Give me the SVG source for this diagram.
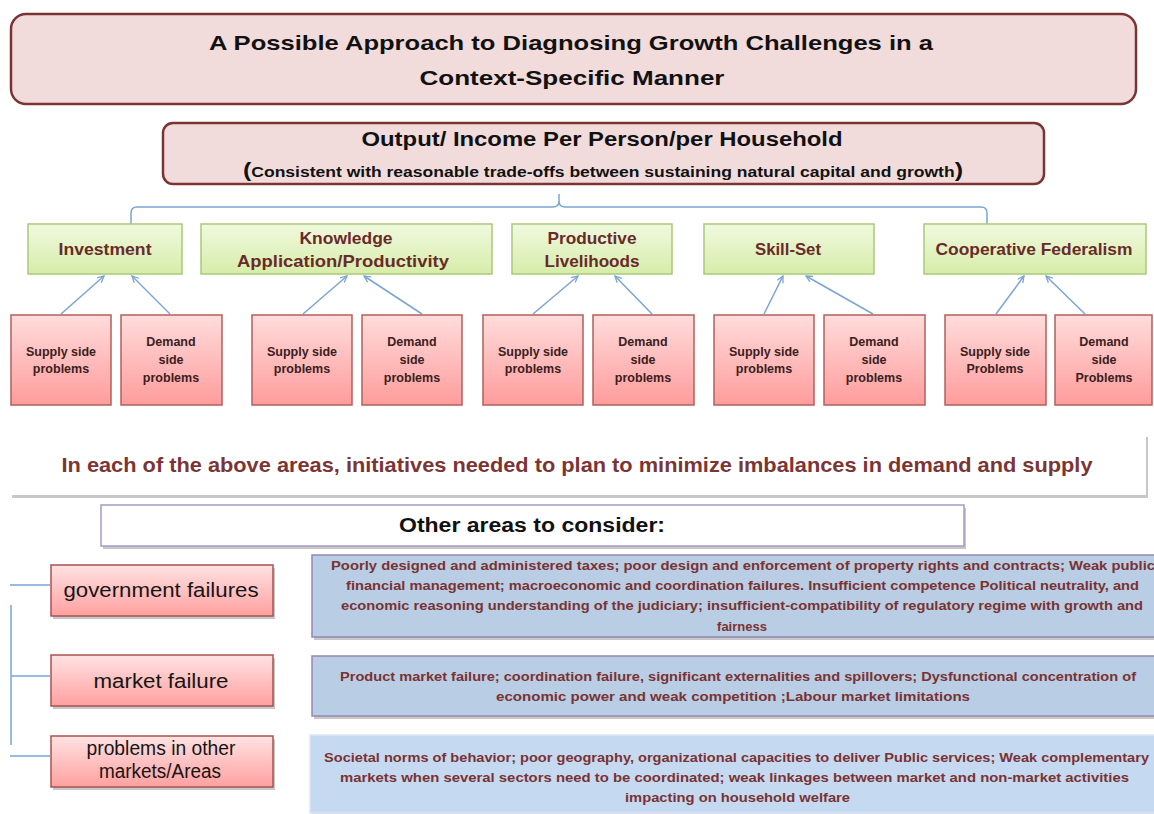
<svg xmlns="http://www.w3.org/2000/svg" width="1154" height="814" viewBox="0 0 1154 814">
<style>
text{font-family:"Liberation Sans",Arial,sans-serif;}
.t{font-weight:bold;fill:#111;text-anchor:middle;}
.g{font-weight:bold;fill:#6a2a2a;font-size:17px;text-anchor:middle;}
.p{font-weight:bold;fill:#3a2020;font-size:12.5px;text-anchor:middle;}
.l{fill:#151515;font-size:20px;text-anchor:middle;}
.b{font-weight:bold;fill:#7a3232;font-size:13px;}
.gb{fill:url(#gg);stroke:#a9c97c;stroke-width:1.5;}
.pb{fill:url(#pg);stroke:#b0605c;stroke-width:1.5;}
.lb{fill:url(#lg);stroke:#a85350;stroke-width:1.5;}
.bb{fill:#b9cde4;stroke:#9486b8;stroke-width:1.5;}
.c{fill:none;stroke:#7ba4d6;stroke-width:1.5;}
.sh{fill:#000;opacity:0.22;}
</style>
<defs>
<linearGradient id="gg" x1="0" y1="0" x2="0" y2="1"><stop offset="0" stop-color="#f1f9df"/><stop offset="1" stop-color="#d6eda9"/></linearGradient>
<linearGradient id="pg" x1="0" y1="0" x2="0" y2="1"><stop offset="0" stop-color="#ffdcdc"/><stop offset="1" stop-color="#ff9c9c"/></linearGradient>
<linearGradient id="lg" x1="0" y1="0" x2="0" y2="1"><stop offset="0" stop-color="#ffe2e2"/><stop offset="1" stop-color="#ffa0a0"/></linearGradient>
<marker id="ah" viewBox="0 0 10 10" refX="9" refY="5" markerWidth="8" markerHeight="8" orient="auto" markerUnits="userSpaceOnUse"><path d="M1,1 L9,5 L1,9" fill="none" stroke="#7ba4d6" stroke-width="1.6"/></marker>
</defs>

<g id="title">
<rect x="11" y="14" width="1125" height="90" rx="15" fill="#f2dcdb" stroke="#7b3434" stroke-width="2.5"/>
<text class="t" x="571" y="50" font-size="21" textLength="724" lengthAdjust="spacingAndGlyphs">A Possible Approach to Diagnosing Growth Challenges in a</text>
<text class="t" x="572" y="85" font-size="21" textLength="305" lengthAdjust="spacingAndGlyphs">Context-Specific Manner</text>
</g>

<g id="output">
<rect x="163" y="123" width="881" height="61" rx="10" fill="#f2dcdb" stroke="#7b3434" stroke-width="2.5"/>
<text class="t" x="602" y="146" font-size="20" textLength="481" lengthAdjust="spacingAndGlyphs">Output/ Income Per Person/per Household</text>
<text class="t" x="603" y="177" font-size="14" textLength="720" lengthAdjust="spacingAndGlyphs"><tspan font-size="20">(</tspan>Consistent with reasonable trade-offs between sustaining natural capital and growth<tspan font-size="20">)</tspan></text>
</g>

<g id="connectors">
<path class="c" d="M131,224 V213 Q131,207 137,207 H553 Q559,207 559,201 V194 M559,201 Q559,207 565,207 H981 Q987,207 987,213 V224"/>
<line class="c" x1="61" y1="314" x2="104" y2="276" marker-end="url(#ah)"/>
<line class="c" x1="170" y1="314" x2="132" y2="276" marker-end="url(#ah)"/>
<line class="c" x1="303" y1="314" x2="347" y2="276" marker-end="url(#ah)"/>
<line class="c" x1="422" y1="314" x2="364" y2="276" marker-end="url(#ah)"/>
<line class="c" x1="533" y1="314" x2="578" y2="276" marker-end="url(#ah)"/>
<line class="c" x1="652" y1="314" x2="615" y2="276" marker-end="url(#ah)"/>
<line class="c" x1="764" y1="314" x2="783" y2="276" marker-end="url(#ah)"/>
<line class="c" x1="873" y1="314" x2="806" y2="276" marker-end="url(#ah)"/>
<line class="c" x1="996" y1="314" x2="1024" y2="276" marker-end="url(#ah)"/>
<line class="c" x1="1085" y1="314" x2="1046" y2="276" marker-end="url(#ah)"/>
<path class="c" d="M10,585 H50 M11,605 V745 M11,676 H50 M10,756 H50"/>
</g>

<g id="investment">
<rect class="gb" x="28" y="224" width="154" height="50"/>
<text class="g" x="105" y="255" textLength="93" lengthAdjust="spacingAndGlyphs">Investment</text>
</g>
<g id="knowledge">
<rect class="gb" x="201" y="224" width="291" height="50"/>
<text class="g" x="346" y="244" textLength="93" lengthAdjust="spacingAndGlyphs">Knowledge</text>
<text class="g" x="343" y="267" textLength="212" lengthAdjust="spacingAndGlyphs">Application/Productivity</text>
</g>
<g id="productive">
<rect class="gb" x="512" y="224" width="160" height="50"/>
<text class="g" x="592" y="244" textLength="89" lengthAdjust="spacingAndGlyphs">Productive</text>
<text class="g" x="592" y="267" textLength="95" lengthAdjust="spacingAndGlyphs">Livelihoods</text>
</g>
<g id="skillset">
<rect class="gb" x="704" y="224" width="170" height="50"/>
<text class="g" x="788" y="255" textLength="66" lengthAdjust="spacingAndGlyphs">Skill-Set</text>
</g>
<g id="cooperative">
<rect class="gb" x="924" y="224" width="222" height="50"/>
<text class="g" x="1034" y="255" textLength="197" lengthAdjust="spacingAndGlyphs">Cooperative Federalism</text>
</g>

<g id="inv-supply"><rect class="pb" x="11" y="315" width="100" height="90"/><text class="p" x="61" y="356">Supply side</text><text class="p" x="61" y="373">problems</text></g>
<g id="inv-demand"><rect class="pb" x="121" y="315" width="101" height="90"/><text class="p" x="171" y="346">Demand</text><text class="p" x="171" y="364">side</text><text class="p" x="171" y="382">problems</text></g>
<g id="kn-supply"><rect class="pb" x="252" y="315" width="100" height="90"/><text class="p" x="302" y="356">Supply side</text><text class="p" x="302" y="373">problems</text></g>
<g id="kn-demand"><rect class="pb" x="362" y="315" width="100" height="90"/><text class="p" x="412" y="346">Demand</text><text class="p" x="412" y="364">side</text><text class="p" x="412" y="382">problems</text></g>
<g id="pr-supply"><rect class="pb" x="483" y="315" width="100" height="90"/><text class="p" x="533" y="356">Supply side</text><text class="p" x="533" y="373">problems</text></g>
<g id="pr-demand"><rect class="pb" x="593" y="315" width="101" height="90"/><text class="p" x="643" y="346">Demand</text><text class="p" x="643" y="364">side</text><text class="p" x="643" y="382">problems</text></g>
<g id="sk-supply"><rect class="pb" x="714" y="315" width="100" height="90"/><text class="p" x="764" y="356">Supply side</text><text class="p" x="764" y="373">problems</text></g>
<g id="sk-demand"><rect class="pb" x="824" y="315" width="101" height="90"/><text class="p" x="874" y="346">Demand</text><text class="p" x="874" y="364">side</text><text class="p" x="874" y="382">problems</text></g>
<g id="cf-supply"><rect class="pb" x="945" y="315" width="101" height="90"/><text class="p" x="995" y="356">Supply side</text><text class="p" x="995" y="373">Problems</text></g>
<g id="cf-demand"><rect class="pb" x="1055" y="315" width="97" height="90"/><text class="p" x="1104" y="346">Demand</text><text class="p" x="1104" y="364">side</text><text class="p" x="1104" y="382">Problems</text></g>

<g id="banner">
<rect class="sh" x="12" y="437" width="1136" height="61"/>
<rect x="10" y="434" width="1136" height="61" fill="#fff"/>
<text x="577" y="472" font-size="21" font-weight="bold" fill="#7b3535" text-anchor="middle" textLength="1031" lengthAdjust="spacingAndGlyphs">In each of the above areas, initiatives needed to plan to minimize imbalances in demand and supply</text>
</g>

<g id="other-areas">
<rect class="sh" x="103" y="508" width="863" height="41"/>
<rect x="101" y="505" width="863" height="41" fill="#fff" stroke="#a898c8" stroke-width="1.5"/>
<text class="t" x="532" y="532" font-size="20" textLength="266" lengthAdjust="spacingAndGlyphs">Other areas to consider:</text>
</g>

<g id="gov-failures">
<rect class="sh" x="53" y="568" width="222" height="51"/>
<rect class="lb" x="51" y="565" width="222" height="51"/>
<text class="l" x="161" y="597" textLength="195" lengthAdjust="spacingAndGlyphs">government failures</text>
</g>
<g id="market-failure">
<rect class="sh" x="53" y="658" width="222" height="51"/>
<rect class="lb" x="51" y="655" width="222" height="51"/>
<text class="l" x="161" y="688" textLength="135" lengthAdjust="spacingAndGlyphs">market failure</text>
</g>
<g id="other-markets">
<rect class="sh" x="53" y="739" width="222" height="51"/>
<rect class="lb" x="51" y="736" width="222" height="51"/>
<text class="l" x="161" y="755" font-size="18" textLength="149" lengthAdjust="spacingAndGlyphs">problems in other</text>
<text class="l" x="160" y="778" font-size="18" textLength="122" lengthAdjust="spacingAndGlyphs">markets/Areas</text>
</g>

<g id="gov-details">
<rect class="sh" x="314" y="558" width="845" height="82"/>
<rect class="bb" x="312" y="555" width="845" height="82"/>
<text class="b" x="331" y="570" textLength="824" lengthAdjust="spacingAndGlyphs">Poorly designed and administered taxes; poor design and enforcement  of property rights and  contracts;   Weak public</text>
<text class="b" x="346" y="590" textLength="793" lengthAdjust="spacingAndGlyphs">financial management; macroeconomic and coordination failures. Insufficient competence Political neutrality, and</text>
<text class="b" x="341" y="610" textLength="802" lengthAdjust="spacingAndGlyphs">economic reasoning understanding of the judiciary; insufficient-compatibility of regulatory regime with growth and</text>
<text class="b" x="742" y="631" text-anchor="middle">fairness</text>
</g>
<g id="market-details">
<rect class="sh" x="314" y="659" width="845" height="60"/>
<rect class="bb" x="312" y="656" width="845" height="60"/>
<text class="b" x="340" y="681" textLength="796" lengthAdjust="spacingAndGlyphs">Product market failure; coordination failure, significant externalities and spillovers; Dysfunctional concentration of</text>
<text class="b" x="496" y="701" textLength="474" lengthAdjust="spacingAndGlyphs">economic power and weak competition ;Labour market limitations</text>
</g>
<g id="other-details">
<rect class="sh" x="312" y="738" width="845" height="78"/>
<rect x="310" y="735" width="845" height="78" fill="#c5d9f0" stroke="#dbe6f3" stroke-width="1.5"/>
<text class="b" x="324" y="762" textLength="825" lengthAdjust="spacingAndGlyphs">Societal norms of behavior;  poor geography, organizational capacities to deliver Public services; Weak complementary</text>
<text class="b" x="340" y="782" textLength="789" lengthAdjust="spacingAndGlyphs">markets when several sectors need to be coordinated; weak linkages between market and non-market activities</text>
<text class="b" x="625" y="802" textLength="225" lengthAdjust="spacingAndGlyphs">impacting on household welfare</text>
</g>
</svg>
